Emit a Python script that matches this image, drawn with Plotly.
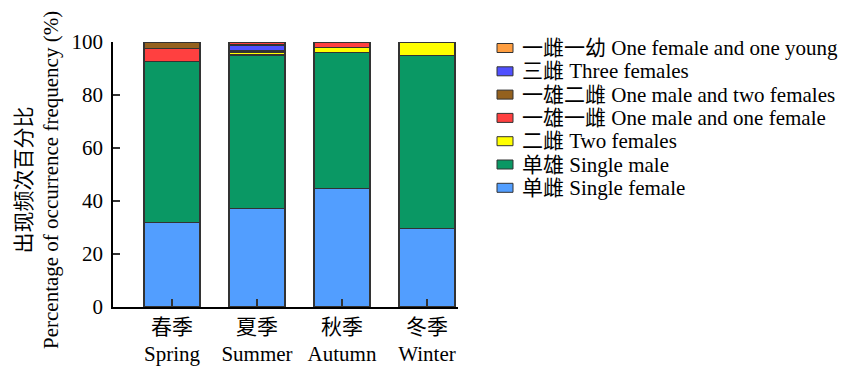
import plotly.graph_objects as go

# Seasons (x categories)
seasons = ["春季<br>Spring", "夏季<br>Summer", "秋季<br>Autumn", "冬季<br>Winter"]

# Percentage of occurrence frequency per group type, by season
single_female = [32.0, 37.3, 44.8, 29.5]
single_male = [60.5, 57.8, 51.2, 65.4]
two_females = [0.0, 1.1, 1.9, 5.1]
one_female_one_young = [0.0, 0.7, 0.0, 0.0]
three_females = [0.0, 2.0, 0.0, 0.0]
one_male_one_female = [5.0, 1.1, 2.1, 0.0]
one_male_two_females = [2.5, 0.0, 0.0, 0.0]

# (name, values, colour) in stacking order, bottom to top
series = [
    ("单雌 Single female", single_female, "#529EFF"),
    ("单雄 Single male", single_male, "#0A9864"),
    ("二雌 Two females", two_females, "#FFFF00"),
    ("一雌一幼 One female and one young", one_female_one_young, "#FF9E40"),
    ("三雌 Three females", three_females, "#5050FF"),
    ("一雄一雌 One male and one female", one_male_one_female, "#FF4040"),
    ("一雄二雌 One male and two females", one_male_two_females, "#94611E"),
]

# Legend listing order, top to bottom
legend_order = [
    "一雌一幼 One female and one young",
    "三雌 Three females",
    "一雄二雌 One male and two females",
    "一雄一雌 One male and one female",
    "二雌 Two females",
    "单雄 Single male",
    "单雌 Single female",
]

Y_TITLE = "出现频次百分比<br>Percentage of occurrence frequency (%)"

FONT = "Liberation Serif, Times New Roman, Noto Sans CJK SC, serif"
FS = 21

W, H = 845, 367
ML, MR, MT, MB = 113, 387, 42, 60
PW, PH = W - ML - MR, H - MT - MB


def px_x(px):
    return (px - ML) / PW


def px_y(py):
    return (H - MB - py) / PH


fig = go.Figure()
for name, vals, color in series:
    fig.add_trace(go.Bar(
        x=list(range(len(seasons))), y=vals, name=name,
        marker=dict(color=color, line=dict(color="#333333", width=1.2)),
        width=0.66, showlegend=False,
    ))

# Hand-built legend: swatch + label per group type
colors = {name: color for name, _, color in series}
shapes, annotations = [], []
top_y, step = 48, 23.3
for i, name in enumerate(legend_order):
    cy = top_y + i * step
    shapes.append(dict(
        type="rect", xref="paper", yref="paper",
        x0=px_x(497), x1=px_x(513), y0=px_y(cy + 4.5), y1=px_y(cy - 4.5),
        fillcolor=colors[name], line=dict(color="#333333", width=1),
    ))
    annotations.append(dict(
        xref="paper", yref="paper", x=px_x(520), y=px_y(cy),
        xanchor="left", yanchor="middle", text=name, showarrow=False,
        font=dict(family=FONT, size=FS, color="black"),
    ))

# Two-line rotated y-axis title
annotations.append(dict(
    xref="paper", yref="paper", x=px_x(37), y=px_y(180),
    xanchor="center", yanchor="middle", textangle=-90,
    text=Y_TITLE, showarrow=False,
    font=dict(family=FONT, size=FS, color="black"),
))

fig.update_layout(
    barmode="stack",
    width=W, height=H,
    margin=dict(l=ML, r=MR, t=MT, b=MB, autoexpand=False),
    paper_bgcolor="white", plot_bgcolor="white",
    font=dict(family=FONT, size=FS, color="black"),
    showlegend=False,
    shapes=shapes, annotations=annotations,
    xaxis=dict(
        range=[-0.694, 3.365], automargin=False,
        tickmode="array", tickvals=list(range(len(seasons))), ticktext=seasons,
        showline=True, linecolor="black", linewidth=1.5,
        ticks="inside", ticklen=8, tickcolor="#333333", tickwidth=1.5,
        showgrid=False, zeroline=False,
        tickfont=dict(family=FONT, size=FS),
    ),
    yaxis=dict(
        range=[0, 100], tickvals=[0, 20, 40, 60, 80, 100], automargin=False,
        showline=True, linecolor="black", linewidth=1.5,
        ticks="inside", ticklen=7, tickcolor="#333333", tickwidth=1.5,
        ticklabelstandoff=4,
        showgrid=False, zeroline=False,
        tickfont=dict(family=FONT, size=FS),
    ),
)

fig.write_html("out.html")
